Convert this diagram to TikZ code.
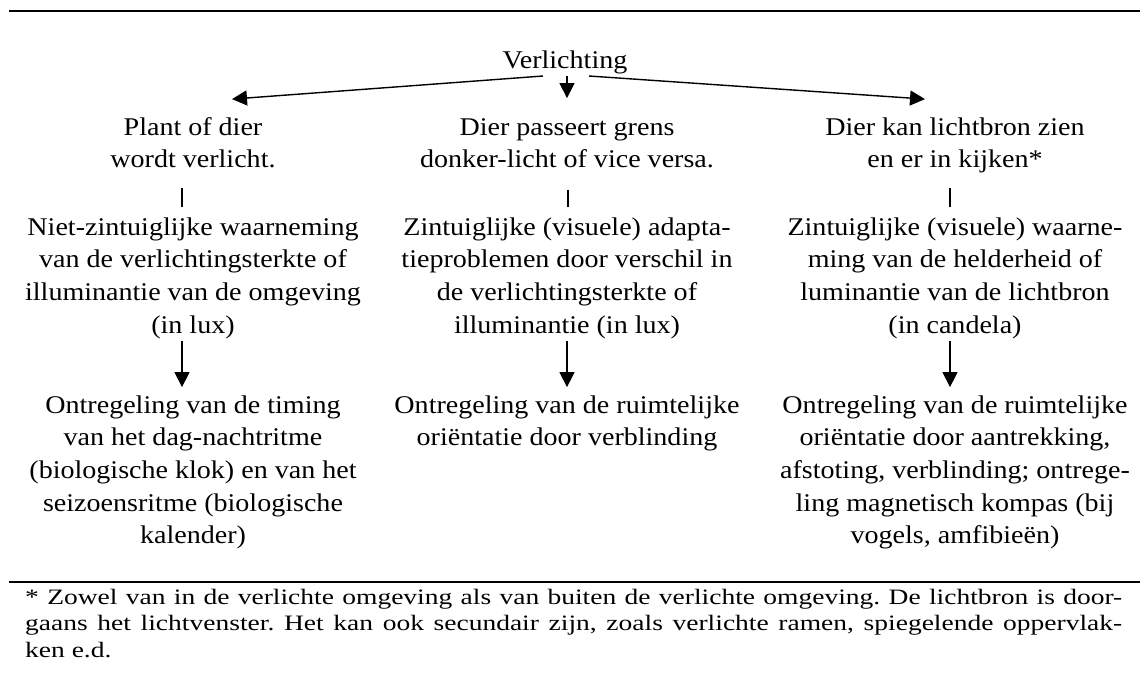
\documentclass[tikz,border=0pt]{standalone}
\usepackage{fontspec}
\newfontfamily\dfont{Liberation Serif}[FakeStretch=1.1]
\newfontfamily\fnfont{Liberation Serif}[FakeStretch=1.25]
\usetikzlibrary{arrows.meta,calc}
\begin{document}
\begin{tikzpicture}[x=1pt,y=-1pt,
  font=\dfont\fontsize{25.5}{32.7}\selectfont,
  txt/.style={align=center,inner sep=0pt,anchor=north},
  conn/.style={line width=1.4pt,-{Triangle[length=15pt,width=15pt]}},
  barline/.style={line width=1.2pt},
  rulebar/.style={line width=2pt}]
\useasboundingbox (0,0) rectangle (1140,677);
\draw[rulebar] (9,11) -- (1140,11);
\draw[rulebar] (9,582) -- (1140,582);

\node[inner sep=0pt,anchor=base] (V) at (565,68) {Verlichting};

\node[txt] (L1) at (193,112.1) {\strut Plant of dier\\wordt verlicht.\strut};
\node[txt] (M1) at (567,112.1) {\strut Dier passeert grens\\donker-licht of vice versa.\strut};
\node[txt] (R1) at (955,112.1) {\strut Dier kan lichtbron zien\\en er in kijken*\strut};

\node[txt] (L2) at (193,212.1) {\strut Niet-zintuiglijke waarneming\\van de verlichtingsterkte of\\illuminantie van de omgeving\\(in lux)\strut};
\node[txt] (M2) at (567,212.1) {\strut Zintuiglijke (visuele) adapta-\\tieproblemen door verschil in\\de verlichtingsterkte of\\illuminantie (in lux)\strut};
\node[txt] (R2) at (955,212.1) {\strut Zintuiglijke (visuele) waarne-\\ming van de helderheid of\\luminantie van de lichtbron\\(in candela)\strut};

\node[txt] (L3) at (193,390.1) {\strut Ontregeling van de timing\\van het dag-nachtritme\\(biologische klok) en van het\\seizoensritme (biologische\\kalender)\strut};
\node[txt] (M3) at (567,390.1) {\strut Ontregeling van de ruimtelijke\\oriëntatie door verblinding\strut};
\node[txt] (R3) at (955,390.1) {\strut Ontregeling van de ruimtelijke\\oriëntatie door aantrekking,\\afstoting, verblinding; ontrege-\\ling magnetisch kompas (bij\\vogels, amfibieën)\strut};

\draw[conn] ($(V.base)+(-22,8)$) -- ($(L1.north)+(39,-13)$);
\draw[conn] ($(V.base)+(2,8)$) -- ($(M1.north)+(0,-14)$);
\draw[conn] ($(V.base)+(24,8)$) -- ($(R1.north)+(-30,-13)$);

\draw[barline] ($(L1.south)+(-11,10)$) -- ($(L2.north)+(-11,-5)$);
\draw[barline] ($(M1.south)+(1,12)$) -- ($(M2.north)+(1,-5)$);
\draw[barline] ($(R1.south)+(-5,10)$) -- ($(R2.north)+(-5,-5)$);

\draw[conn] ($(L2.south)+(-11,-2)$) -- ($(L3.north)+(-11,-3)$);
\draw[conn] ($(M2.south)+(0,-2)$) -- ($(M3.north)+(0,-3)$);
\draw[conn] ($(R2.south)+(-5,-2)$) -- ($(R3.north)+(-5,-3)$);

\node[anchor=north west,inner sep=0pt,text width=1097pt,align=justify,
  font=\fnfont\fontsize{22}{26.5}\selectfont] (FN) at (25,585.45)
  {\hyphenpenalty=10000\relax\frenchspacing\noindent\strut * Zowel van in de verlichte omgeving als van buiten de verlichte omgeving. De lichtbron is door-\linebreak gaans het lichtvenster. Het kan ook secundair zijn, zoals verlichte ramen, spiegelende oppervlak-\linebreak ken e.d.};
\end{tikzpicture}
\end{document}
